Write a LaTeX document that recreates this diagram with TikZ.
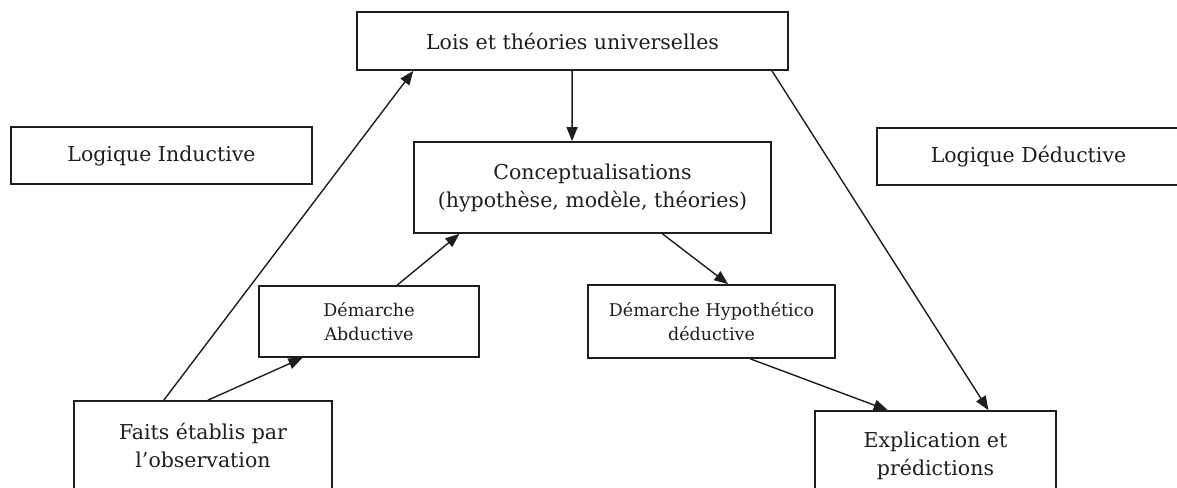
\documentclass[tikz,border=0pt]{standalone}
\usepackage{fontspec}
\setmainfont{DejaVu Serif}
\usetikzlibrary{arrows.meta,calc}
\definecolor{ink}{HTML}{1E1E1E}
\begin{document}
\begin{tikzpicture}[x=1pt,y=-1pt,
  box/.style={draw=ink, line width=1.7pt, rectangle, inner sep=0pt, align=center,
    text=ink, font=\fontsize{20.5}{28}\selectfont},
  smallbox/.style={box, font=\fontsize{17.5}{24}\selectfont},
  link/.style={draw=ink, line width=1.4pt},
  arrow/.style={link, -{Triangle[length=14pt,width=11pt]}}]
\useasboundingbox (0,0) rectangle (1177,487);
\clip (0,0) rectangle (1177,487);

% boxes
\node[box, minimum width=431pt, minimum height=58pt] (lois) at (572.5,41) {Lois et théories universelles};
\node[box, minimum width=301pt, minimum height=57pt] (ind) at (161.5,155.5) {Logique Inductive};
\node[box, minimum width=303pt, minimum height=57pt] (ded) at (1028.5,156.5) {Logique Déductive};
\node[box, minimum width=357pt, minimum height=91pt] (concept) at (592.5,187.5) {Conceptualisations\\(hypothèse, modèle, théories)};
\node[smallbox, minimum width=220pt, minimum height=71pt] (abd) at (369,321.5) {Démarche\\Abductive};
\node[smallbox, minimum width=247pt, minimum height=73pt] (hyp) at (711.5,321.5) {Démarche Hypothético\\déductive};
\node[box, minimum width=258pt, minimum height=89pt] (faits) at (203,445.5) {Faits établis par\\l’observation};
\node[box, minimum width=241pt, minimum height=89pt] (expl) at (935.5,455.5) {Explication et\\prédictions};

% attachment points on the box edges
\coordinate (f1) at ($(faits.north west)!0.349!(faits.north east)$);
\coordinate (f2) at ($(faits.north west)!0.519!(faits.north east)$);
\coordinate (l1) at ($(lois.south west)!0.132!(lois.south east)$);
\coordinate (l2) at ($(lois.south west)!0.499!(lois.south east)$);
\coordinate (l3) at ($(lois.south west)!0.961!(lois.south east)$);
\coordinate (a1) at ($(abd.south west)!0.2!(abd.south east)$);
\coordinate (a2) at ($(abd.north west)!0.627!(abd.north east)$);
\coordinate (c1) at ($(concept.north west)!0.443!(concept.north east)$);
\coordinate (c2) at ($(concept.south west)!0.129!(concept.south east)$);
\coordinate (c3) at ($(concept.south west)!0.695!(concept.south east)$);
\coordinate (h1) at ($(hyp.north west)!0.567!(hyp.north east)$);
\coordinate (h2) at ($(hyp.south west)!0.656!(hyp.south east)$);
\coordinate (e1) at ($(expl.north west)!0.303!(expl.north east)$);
\coordinate (e2) at ($(expl.north west)!0.718!(expl.north east)$);

% connectors
\draw[arrow] (f1) -- (l1);
\draw[arrow] (f2) -- (a1);
\draw[arrow] (a2) -- (c2);
\draw[arrow] (l2) -- (c1);
\draw[arrow] (c3) -- (h1);
\draw[arrow] (l3) -- (e2);
\draw[arrow] (h2) -- (e1);
\end{tikzpicture}
\end{document}
